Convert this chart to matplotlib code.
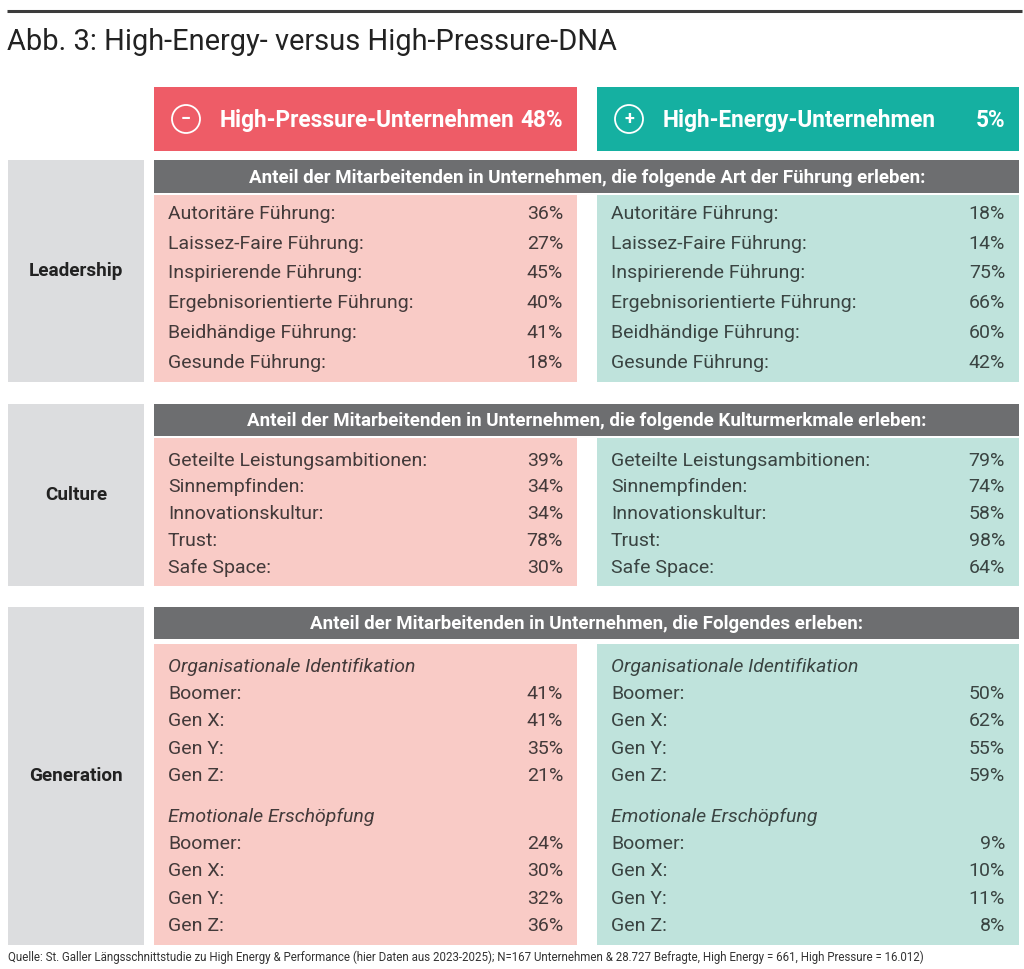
import matplotlib
matplotlib.use("Agg")
import matplotlib.pyplot as plt
from matplotlib.patches import Rectangle, Circle

plt.rcParams['font.family'] = ['Roboto', 'DejaVu Sans']

title = "Abb. 3: High-Energy- versus High-Pressure-DNA"
footer = ("Quelle: St. Galler Längsschnittstudie zu High Energy & Performance (hier Daten aus 2023-2025); "
          "N=167 Unternehmen & 28.727 Befragte, High Energy = 661, High Pressure = 16.012)")

group_names = ["High-Pressure-Unternehmen", "High-Energy-Unternehmen"]
group_shares = ["48%", "5%"]
group_signs = ["−", "+"]

section_names = ["Leadership", "Culture", "Generation"]
section_headers = [
    "Anteil der Mitarbeitenden in Unternehmen, die folgende Art der Führung erleben:",
    "Anteil der Mitarbeitenden in Unternehmen, die folgende Kulturmerkmale erleben:",
    "Anteil der Mitarbeitenden in Unternehmen, die Folgendes erleben:",
]

leadership_labels = ["Autoritäre Führung:", "Laissez-Faire Führung:", "Inspirierende Führung:",
                     "Ergebnisorientierte Führung:", "Beidhändige Führung:", "Gesunde Führung:"]
leadership_pressure = [36, 27, 45, 40, 41, 18]
leadership_energy = [18, 14, 75, 66, 60, 42]

culture_labels = ["Geteilte Leistungsambitionen:", "Sinnempfinden:", "Innovationskultur:",
                  "Trust:", "Safe Space:"]
culture_pressure = [39, 34, 34, 78, 30]
culture_energy = [79, 74, 58, 98, 64]

gen_subheads = ["Organisationale Identifikation", "Emotionale Erschöpfung"]
gen_labels = ["Boomer:", "Gen X:", "Gen Y:", "Gen Z:"]
ident_pressure = [41, 41, 35, 21]
ident_energy = [50, 62, 55, 59]
exhaust_pressure = [24, 30, 32, 36]
exhaust_energy = [9, 10, 11, 8]

# colours
RED = "#EE5C67"
RED_L = "#F9CBC6"
TEAL = "#15B0A1"
TEAL_L = "#BFE3DC"
BAR = "#6D6E70"
GRAY_L = "#DCDDDF"
TXT = "#433A3A"
TXT_T = "#3A4442"

W, H = 1024, 969
fig = plt.figure(figsize=(W / 100, H / 100), dpi=100)
ax = fig.add_axes([0, 0, 1, 1])
ax.set_xlim(0, W)
ax.set_ylim(H, 0)
ax.axis("off")

def rect(x0, y0, x1, y1, color):
    ax.add_patch(Rectangle((x0, y0), x1 - x0, y1 - y0, facecolor=color, edgecolor="none"))

# top rule and title
ax.plot([7, 1022], [11, 11], color="#3c3c3c", lw=2.2, solid_capstyle="butt")
ax.text(7, 42, title, fontsize=20.9, color="#222222", va="center", ha="left")

# column geometry
cols = [(154, 577, RED, RED_L, TXT), (597, 1019, TEAL, TEAL_L, TXT_T)]

# group header boxes
for (x0, x1, c, cl, tc), name, share, sign in zip(cols, group_names, group_shares, group_signs):
    rect(x0, 87, x1, 151, c)
    ax.add_patch(Circle((x0 + 32, 119), 14, facecolor="none", edgecolor="white", lw=1.3))
    ax.text(x0 + 32, 118.5, sign, fontsize=13, color="white", ha="center", va="center", fontweight="bold")
    ax.text(x0 + 66, 120, name, fontsize=16.3, color="white", ha="left", va="center", fontweight="bold")
    ax.text(x1 - 14, 120, share, fontsize=16.3, color="white", ha="right", va="center", fontweight="bold")

# sections: (top, bar_bottom, content_top, bottom)
sections = [(160, 193, 195, 382), (404, 436, 438, 586), (607, 639, 644, 945)]

for (top, bb, ct, bot), sname, shead in zip(sections, section_names, section_headers):
    rect(8, top, 144, bot, GRAY_L)
    ax.text(76, (top + bot) / 2, sname, fontsize=13.6, fontweight="bold", color="#222222",
            ha="center", va="center")
    rect(154, top, 1019, bb, BAR)
    ax.text(587, (top + bb) / 2 + 1, shead, fontsize=13.5, fontweight="bold", color="white",
            ha="center", va="center")
    for (x0, x1, c, cl, tc) in cols:
        rect(x0, ct, x1, bot, cl)

FS = 14

def rows(labels, values, y_start, step, x0, x1, tc):
    for i, (lab, v) in enumerate(zip(labels, values)):
        y = y_start + i * step
        ax.text(x0 + 14, y, lab, fontsize=FS, color=tc, ha="left", va="center")
        ax.text(x1 - 14, y, f"{v}%", fontsize=FS, color=tc, ha="right", va="center")

(xp0, xp1, _, _, tp), (xe0, xe1, _, _, te) = cols
rows(leadership_labels, leadership_pressure, 213.5, 30, xp0, xp1, tp)
rows(leadership_labels, leadership_energy, 213.5, 30, xe0, xe1, te)
rows(culture_labels, culture_pressure, 460.5, 26.8, xp0, xp1, tp)
rows(culture_labels, culture_energy, 460.5, 26.8, xe0, xe1, te)

for (x0, x1, tc), vals_a, vals_b in [((xp0, xp1, tp), ident_pressure, exhaust_pressure),
                                       ((xe0, xe1, te), ident_energy, exhaust_energy)]:
    ax.text(x0 + 14, 666.5, gen_subheads[0], fontsize=FS, color=tc, ha="left", va="center", style="italic")
    rows(gen_labels, vals_a, 694, 27.3, x0, x1, tc)
    ax.text(x0 + 14, 816.5, gen_subheads[1], fontsize=FS, color=tc, ha="left", va="center", style="italic")
    rows(gen_labels, vals_b, 844, 27.3, x0, x1, tc)

ax.text(8, 957, footer, fontsize=8.3, color="#333333", ha="left", va="center")

fig.savefig("out.png", dpi=100, facecolor="white")
